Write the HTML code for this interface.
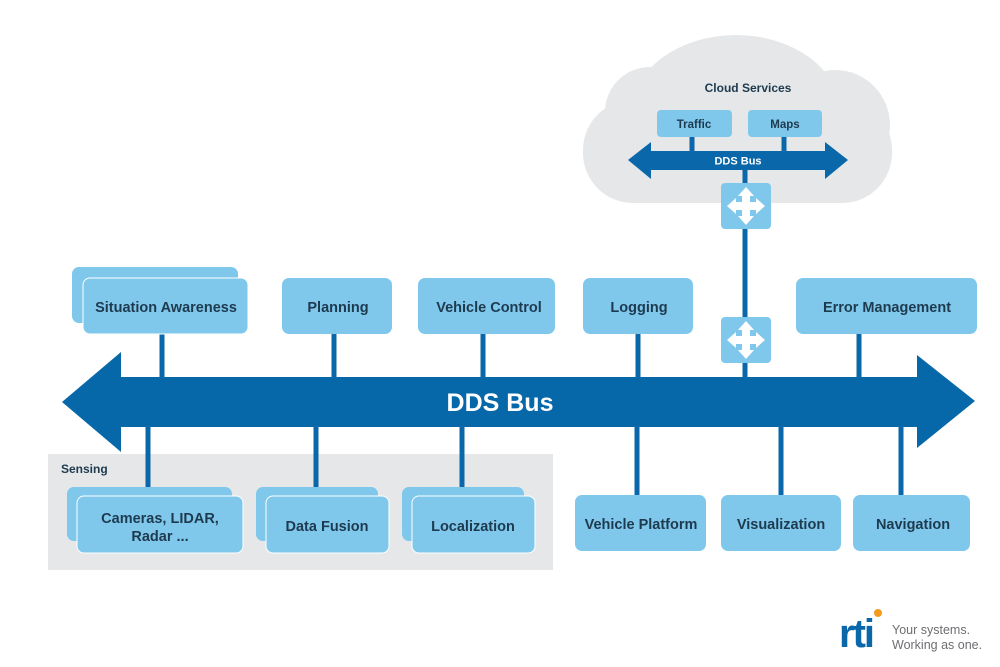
<!DOCTYPE html>
<html><head><meta charset="utf-8"><style>
html,body{margin:0;padding:0;background:#fff;}
svg{display:block;font-family:"Liberation Sans",sans-serif;}
.b{fill:#7fc8ec;}
.t{fill:#1e3a4f;font-size:14.5px;font-weight:bold;text-anchor:middle;}
.l{stroke:#0a67a9;stroke-width:5;}
</style></head><body>
<svg width="1000" height="667" viewBox="0 0 1000 667">
<defs>
<g id="rt">
<rect x="0" y="0" width="50" height="46" rx="4" fill="#7fc8ec"/>
<g fill="#fff">
<rect x="21" y="12" width="8" height="22"/>
<rect x="14" y="19" width="22" height="8"/>
<path d="M25 4 L33 13 L17 13 Z"/>
<path d="M25 42 L33 33 L17 33 Z"/>
<path d="M6 23 L15 15 L15 31 Z"/>
<path d="M44 23 L35 15 L35 31 Z"/>
</g>
</g>
</defs>
<g fill="#e6e7e8">
<rect x="583" y="100" width="309" height="103" rx="50"/>
<ellipse cx="736" cy="112" rx="104" ry="77"/>
<circle cx="650" cy="112" r="45"/>
<circle cx="835" cy="125" r="55"/>
</g>
<text x="748" y="92" style="fill:#1e3a4f;font-size:12px;font-weight:bold;text-anchor:middle">Cloud Services</text>
<rect class="b" x="657" y="110" width="75" height="27" rx="4"/>
<rect class="b" x="748" y="110" width="74" height="27" rx="4"/>
<text x="694" y="128" style="fill:#1e3a4f;font-size:11.5px;font-weight:bold;text-anchor:middle">Traffic</text>
<text x="785" y="128" style="fill:#1e3a4f;font-size:11.5px;font-weight:bold;text-anchor:middle">Maps</text>
<line class="l" x1="692" y1="137" x2="692" y2="152"/>
<line class="l" x1="784" y1="137" x2="784" y2="152"/>
<path fill="#0a67a9" d="M628 160 L651 142 L651 151 L825 151 L825 142 L848 160 L825 179 L825 170 L651 170 L651 179 Z"/>
<text x="738" y="164.5" style="fill:#fff;font-size:11px;font-weight:bold;text-anchor:middle">DDS Bus</text>
<line class="l" x1="745" y1="168" x2="745" y2="380"/>
<use href="#rt" x="721" y="183"/>
<use href="#rt" x="721" y="317"/>
<rect x="48" y="454" width="505" height="116" fill="#e6e7e8"/>
<text x="61" y="473" style="fill:#1e3a4f;font-size:12px;font-weight:bold">Sensing</text>
<g class="l">
<line x1="162" y1="334" x2="162" y2="380"/>
<line x1="334" y1="334" x2="334" y2="380"/>
<line x1="483" y1="334" x2="483" y2="380"/>
<line x1="638" y1="334" x2="638" y2="380"/>
<line x1="859" y1="334" x2="859" y2="380"/>
<line x1="148" y1="425" x2="148" y2="488"/>
<line x1="316" y1="425" x2="316" y2="488"/>
<line x1="462" y1="425" x2="462" y2="488"/>
<line x1="637" y1="425" x2="637" y2="496"/>
<line x1="781" y1="425" x2="781" y2="496"/>
<line x1="901" y1="425" x2="901" y2="496"/>
</g>
<path fill="#0667a9" d="M62 402 L121 352 L121 377 L917 377 L917 355 L975 401 L917 448 L917 427 L121 427 L121 452 Z"/>
<text x="500" y="411" style="fill:#fff;font-size:25px;font-weight:bold;text-anchor:middle">DDS Bus</text>
<rect class="b" x="72" y="267" width="166" height="56" rx="7"/>
<rect class="b" x="83" y="278" width="165" height="56" rx="7" stroke="#fff" stroke-width="1"/>
<text class="t" x="166" y="312">Situation Awareness</text>
<rect class="b" x="282" y="278" width="110" height="56" rx="7"/>
<text class="t" x="338" y="312">Planning</text>
<rect class="b" x="418" y="278" width="137" height="56" rx="7"/>
<text class="t" x="489" y="312">Vehicle Control</text>
<rect class="b" x="583" y="278" width="110" height="56" rx="7"/>
<text class="t" x="639" y="312">Logging</text>
<rect class="b" x="796" y="278" width="181" height="56" rx="7"/>
<text class="t" x="887" y="312">Error Management</text>
<rect class="b" x="67" y="487" width="165" height="54" rx="7"/>
<rect class="b" x="77" y="496" width="166" height="57" rx="7" stroke="#fff" stroke-width="1"/>
<text class="t" x="160" y="523">Cameras, LIDAR,</text>
<text class="t" x="160" y="541">Radar ...</text>
<rect class="b" x="256" y="487" width="122" height="54" rx="7"/>
<rect class="b" x="266" y="496" width="123" height="57" rx="7" stroke="#fff" stroke-width="1"/>
<text class="t" x="327" y="531">Data Fusion</text>
<rect class="b" x="402" y="487" width="122" height="54" rx="7"/>
<rect class="b" x="412" y="496" width="123" height="57" rx="7" stroke="#fff" stroke-width="1"/>
<text class="t" x="473" y="531">Localization</text>
<rect class="b" x="575" y="495" width="131" height="56" rx="7"/>
<text class="t" x="641" y="529">Vehicle Platform</text>
<rect class="b" x="721" y="495" width="120" height="56" rx="7"/>
<text class="t" x="781" y="529">Visualization</text>
<rect class="b" x="853" y="495" width="117" height="56" rx="7"/>
<text class="t" x="913" y="529">Navigation</text>
<text x="839" y="647" style="fill:#0a67a9;font-size:40px;font-weight:bold;letter-spacing:-2px">rti</text>
<circle cx="878" cy="613" r="4" fill="#f39a1f"/>
<text x="892" y="634" style="fill:#6d6e71;font-size:12.5px">Your systems.</text>
<text x="892" y="649" style="fill:#6d6e71;font-size:12.5px">Working as one.</text>
</svg>
</body></html>
